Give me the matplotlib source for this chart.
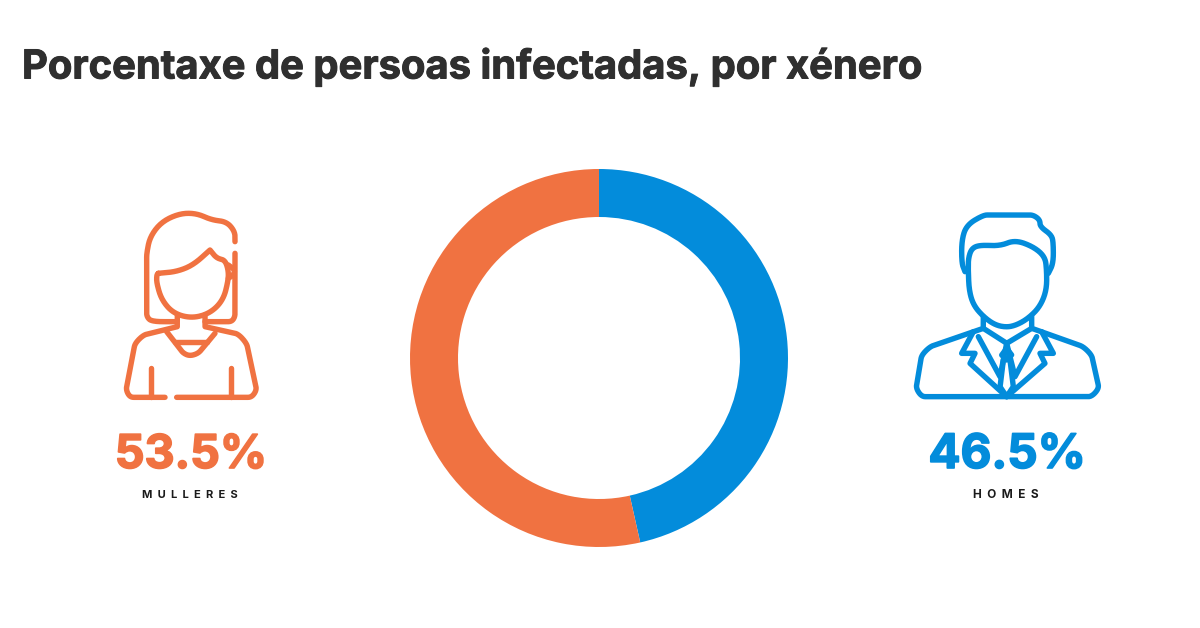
import numpy as np
import matplotlib
matplotlib.use("Agg")
import matplotlib.pyplot as plt
import matplotlib.patheffects as pe

title = "Porcentaxe de persoas infectadas, por xénero"
labels = ["HOMES", "MULLERES"]
values = [46.5, 53.5]
colors = ["#038cdb", "#f07241"]

W, H = 1200, 628

woman = [
    [(405,155),(405,125),(380,95),(335,90),(290,70),(240,70),(185,95),(150,140),(140,190),(140,380),(155,395),(225,395)],
    [(405,190),(405,380),(395,395),(315,395)],
    [(175,250),(230,245),(280,225),(330,180),(330,180),(350,205),(375,210),(385,240),(385,270),(370,330),(330,370),(275,385),(220,370),(185,330),(170,280),(170,255),(175,250)],
    [(385,225),(405,240),(400,255),(385,265)],
    [(232,375),(232,410),(232,410),(130,435),(105,460),(78,600),(90,622),(195,622)],
    [(315,375),(315,410),(315,410),(415,432),(440,460),(470,600),(455,622),(230,622)],
    [(200,425),(250,490),(270,498),(295,490),(345,430)],
    [(225,455),(320,455)],
    [(153,535),(153,622)],
    [(392,535),(392,622)],
]
man = [
    [(195,245),(185,220),(185,150),(200,105),(250,75),(400,75),(420,90),(420,110),(455,135),(460,160),(460,220),(445,250)],
    [(205,240),(205,205),(215,175),(240,165),(300,168),(345,150),(400,170),(435,200),(440,240),(440,300),(420,350),(385,385),(350,405),(320,412),(285,405),(250,380),(220,345),(207,300),(205,240)],
    [(250,380),(250,415),(250,415),(90,470),(65,495),(48,595),(65,620),(575,620),(597,595),(575,495),(550,470),(395,415),(395,415),(395,380)],
    [(250,415),(320,460),(320,460),(395,415)],
    [(220,425),(185,490),(185,490),(225,490),(225,490),(210,520),(210,520),(320,620)],
    [(425,425),(460,490),(460,490),(420,490),(420,490),(435,520),(435,520),(320,620)],
    [(235,440),(300,560),(300,560),(320,460)],
    [(410,440),(345,560),(345,560),(320,460)],
    [(320,475),(305,495),(305,495),(320,510),(320,510),(335,495),(335,495),(320,475)],
    [(310,510),(300,590),(300,590),(320,620),(320,620),(340,590),(340,590),(330,510)],
]


def smooth(pts, n=4, reach=22):
    # keep long runs straight: add points near both ends of each long segment
    p = [np.array(pts[0], dtype=float)]
    for a, b in zip(pts[:-1], pts[1:]):
        a, b = np.array(a, dtype=float), np.array(b, dtype=float)
        d = np.hypot(*(b-a))
        if d > 3.5*reach:
            p.append(a + (b-a)*reach/d)
            p.append(b - (b-a)*reach/d)
        p.append(b)
    p = np.array(p)
    # chaikin corner cutting, repeated points stay sharp
    for _ in range(n):
        q = [p[0]]
        for a, b in zip(p[:-1], p[1:]):
            q.append(0.75*a + 0.25*b)
            q.append(0.25*a + 0.75*b)
        q.append(p[-1])
        p = np.array(q)
    return p


def draw_icon(ax, strokes, x0, y0, color):
    for s in strokes:
        p = smooth(s)
        ax.plot(x0 + p[:,0]/3, y0 + p[:,1]/3, color=color, lw=3.9,
                solid_capstyle="round", solid_joinstyle="round")


def heavy(w, color):
    return [pe.withStroke(linewidth=w, foreground=color)]


fig = plt.figure(figsize=(W/100, H/100), dpi=100)
ax = fig.add_axes([0, 0, 1, 1])
ax.set_xlim(0, W)
ax.set_ylim(H, 0)
ax.axis("off")

ax.text(22, 67, title, fontsize=28.75, fontweight="bold", family="Inter",
        color="#2f2f2f", va="center", ha="left", path_effects=heavy(0.7, "#2f2f2f"))

draw_icon(ax, woman, 100, 190, colors[1])
draw_icon(ax, man, 900, 190, colors[0])

ax.text(191, 456, f"{values[1]}%", fontsize=33.5, fontweight="bold", family="Inter",
        color=colors[1], ha="center", va="center", path_effects=heavy(1.2, colors[1]))
ax.text(1007, 456, f"{values[0]}%", fontsize=34.2, fontweight="bold", family="Inter",
        color=colors[0], ha="center", va="center", path_effects=heavy(1.2, colors[0]))

ax.text(190, 495, "  ".join(labels[1]), fontsize=8, fontweight="bold", family="Inter",
        color="#1a1a1a", ha="center", va="center")
ax.text(1006, 495, "  ".join(labels[0]), fontsize=8.5, fontweight="bold", family="Inter",
        color="#1a1a1a", ha="center", va="center")

# donut in its own axes so the pie scale does the angles
R = 189
cx, cy = 599, 358
ax2 = fig.add_axes([(cx-R)/W, 1-(cy+R)/H, 2*R/W, 2*R/H])
ax2.pie(values, colors=colors, startangle=90, counterclock=False, radius=1,
        wedgeprops=dict(width=48/R, linewidth=0))
ax2.set_xlim(-1, 1)
ax2.set_ylim(-1, 1)

fig.savefig("out.png", dpi=100)
